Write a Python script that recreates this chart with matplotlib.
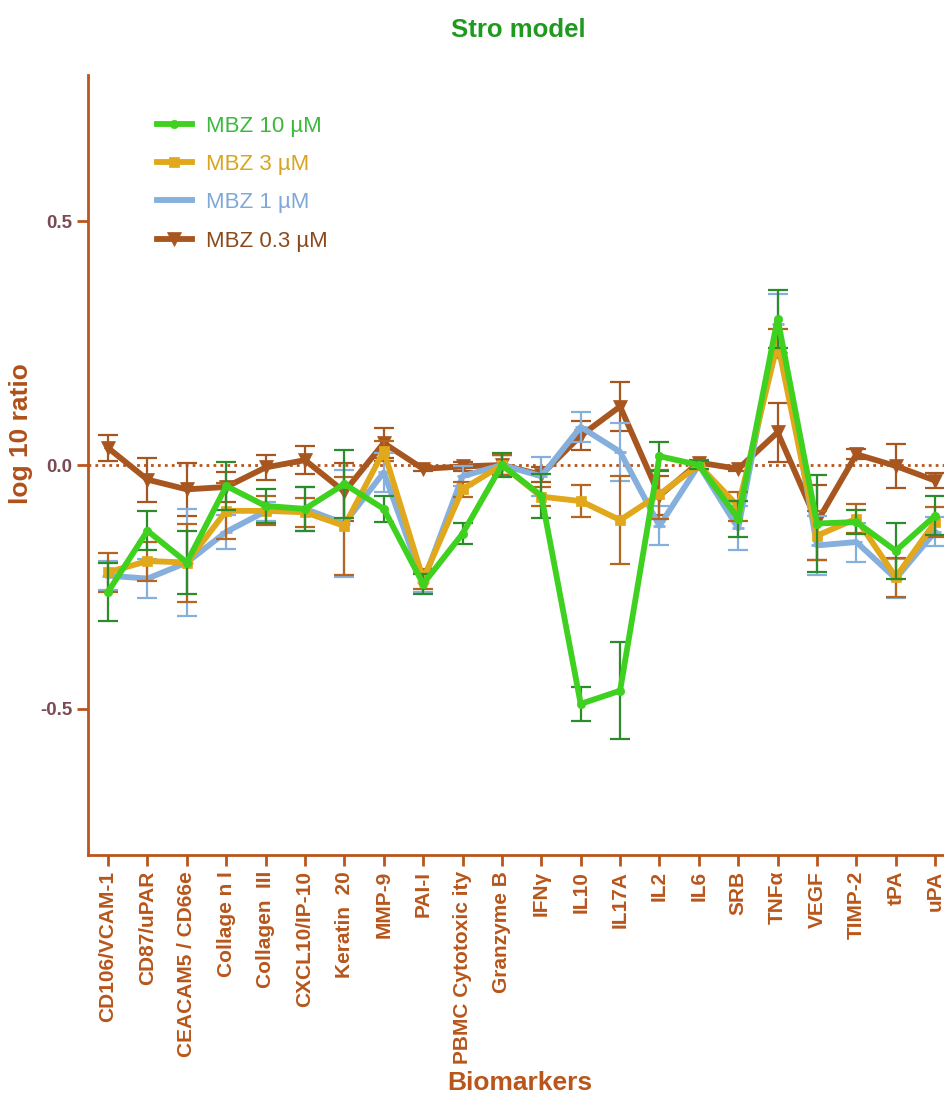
import numpy as np
import matplotlib
matplotlib.use("Agg")
import matplotlib.pyplot as plt

plt.rcParams["font.family"] = ["Liberation Sans", "DejaVu Sans"]

# biomarker names as printed under the x axis
biomarkers = ["CD106/VCAM-1", "CD87/uPAR", "CEACAM5 / CD66e", "Collage n I",
              "Collagen  III", "CXCL10/IP-10", "Keratin  20", "MMP-9", "PAI-I",
              "PBMC Cytotoxic ity", "Granzyme B", "IFNγ", "IL10", "IL17A", "IL2",
              "IL6", "SRB", "TNFα", "VEGF", "TIMP-2", "tPA", "uPA"]

# log10 ratio (mean) and error per dose
mbz10 = [-0.26, -0.135, -0.20, -0.043, -0.084, -0.09, -0.039, -0.09, -0.244, -0.141, 0.0,
         -0.063, -0.49, -0.463, 0.018, 0.0, -0.11, 0.30, -0.12, -0.117, -0.176, -0.104]
mbz10_err = [0.06, 0.04, 0.065, 0.05, 0.035, 0.045, 0.07, 0.027, 0.02, 0.022, 0.025,
             0.045, 0.035, 0.1, 0.03, 0.008, 0.037, 0.06, 0.1, 0.024, 0.058, 0.04]

mbz3 = [-0.22, -0.197, -0.20, -0.094, -0.094, -0.097, -0.125, 0.029, -0.234, -0.05, 0.0,
        -0.065, -0.074, -0.113, -0.06, 0.0, -0.085, 0.25, -0.145, -0.11, -0.23, -0.117]
mbz3_err = [0.04, 0.04, 0.08, 0.058, 0.03, 0.03, 0.1, 0.02, 0.02, 0.015, 0.02,
            0.02, 0.033, 0.09, 0.05, 0.008, 0.03, 0.03, 0.05, 0.03, 0.04, 0.03]

mbz1 = [-0.227, -0.233, -0.20, -0.137, -0.095, -0.09, -0.12, -0.015, -0.24, -0.023, 0.0,
        -0.023, 0.078, 0.027, -0.125, 0.0, -0.13, 0.29, -0.165, -0.158, -0.233, -0.137]
mbz1_err = [0.03, 0.04, 0.11, 0.035, 0.02, 0.045, 0.11, 0.04, 0.02, 0.02, 0.02,
            0.04, 0.03, 0.06, 0.04, 0.008, 0.045, 0.06, 0.06, 0.04, 0.04, 0.03]

mbz03 = [0.035, -0.03, -0.05, -0.045, -0.005, 0.01, -0.055, 0.045, -0.008, -0.003, 0.0,
         -0.02, 0.06, 0.12, -0.063, 0.005, -0.008, 0.067, -0.117, 0.022, -0.002, -0.032]
mbz03_err = [0.027, 0.045, 0.055, 0.03, 0.025, 0.028, 0.06, 0.03, 0.005, 0.01, 0.02,
             0.015, 0.03, 0.05, 0.04, 0.005, 0.005, 0.06, 0.077, 0.01, 0.045, 0.015]

axis_col = "#b8561b"
x = np.arange(len(biomarkers))

fig = plt.figure(figsize=(9.45, 10.95), dpi=100)
ax = fig.add_axes([88/945, 1-855/1095, 1-88/945, (855-75)/1095])

# zero reference line
ax.axhline(0, color=axis_col, linestyle=(0, (1, 1.5)), linewidth=2, zorder=1)

# series: label, values, errors, line colour, error colour, marker, marker size, text colour
series = [
    ("MBZ 0.3 µM", mbz03, mbz03_err, "#a8561f", "#a8561f", "v", 10, "#8b4a1e"),
    ("MBZ 1 µM", mbz1, mbz1_err, "#85afdc", "#85afdc", "_", 8, "#7fa8d8"),
    ("MBZ 3 µM", mbz3, mbz3_err, "#e0a81a", "#b5651d", "s", 7, "#d9a520"),
    ("MBZ 10 µM", mbz10, mbz10_err, "#3fd11f", "#2c8c2c", "o", 6, "#3cb83c"),
]

handles = {}
for i, (lab, vals, err, col, ecol, mk, ms, tcol) in enumerate(series):
    ax.errorbar(x, vals, yerr=err, fmt="none", ecolor=ecol, elinewidth=1.6,
                capsize=7, capthick=1.6, zorder=2 + 2*i)
    h, = ax.plot(x, vals, color=col, linewidth=4.2, marker=mk, markersize=ms,
                 markeredgewidth=2 if mk == "_" else 0.5, markeredgecolor=col,
                 label=lab, zorder=3 + 2*i)
    handles[lab] = (h, tcol)

order = ["MBZ 10 µM", "MBZ 3 µM", "MBZ 1 µM", "MBZ 0.3 µM"]
leg = ax.legend([handles[k][0] for k in order], order, loc="upper left",
                bbox_to_anchor=(0.062, 0.968), frameon=False, fontsize=16,
                handlelength=1.6, labelspacing=0.78, handletextpad=0.6,
                borderpad=0.2)
for txt, k in zip(leg.get_texts(), order):
    txt.set_color(handles[k][1])

ax.set_xlim(-0.51, 21.25)
ax.set_ylim(-0.8, 0.8)
ax.set_yticks([-0.5, 0.0, 0.5])
ax.set_yticklabels(["-0.5", "0.0", "0.5"], fontsize=13.5, fontweight="bold")
ax.set_xticks(x)
ax.set_xticklabels(biomarkers, rotation=90, fontsize=15, fontweight="bold")

for side in ["top", "right"]:
    ax.spines[side].set_visible(False)
for side in ["left", "bottom"]:
    ax.spines[side].set_color(axis_col)
    ax.spines[side].set_linewidth(2)
ax.tick_params(axis="both", colors=axis_col, width=2, length=8)
for t in ax.get_yticklabels():
    t.set_color("#7b4b55")
for t in ax.get_xticklabels():
    t.set_color(axis_col)

ax.set_ylabel("log 10 ratio", fontsize=19, fontweight="bold", color="#b0501b")
ax.yaxis.set_label_coords(-0.064, 0.54)

fig.text(520/945, 1-1083/1095, "Biomarkers", ha="center", va="center", fontsize=19,
         fontweight="bold", color=axis_col)
fig.text(0.549, 0.973, "Stro model", ha="center", va="center", fontsize=18.5,
         fontweight="bold", color="#1f9a1f")

fig.savefig("out.png", dpi=100)
